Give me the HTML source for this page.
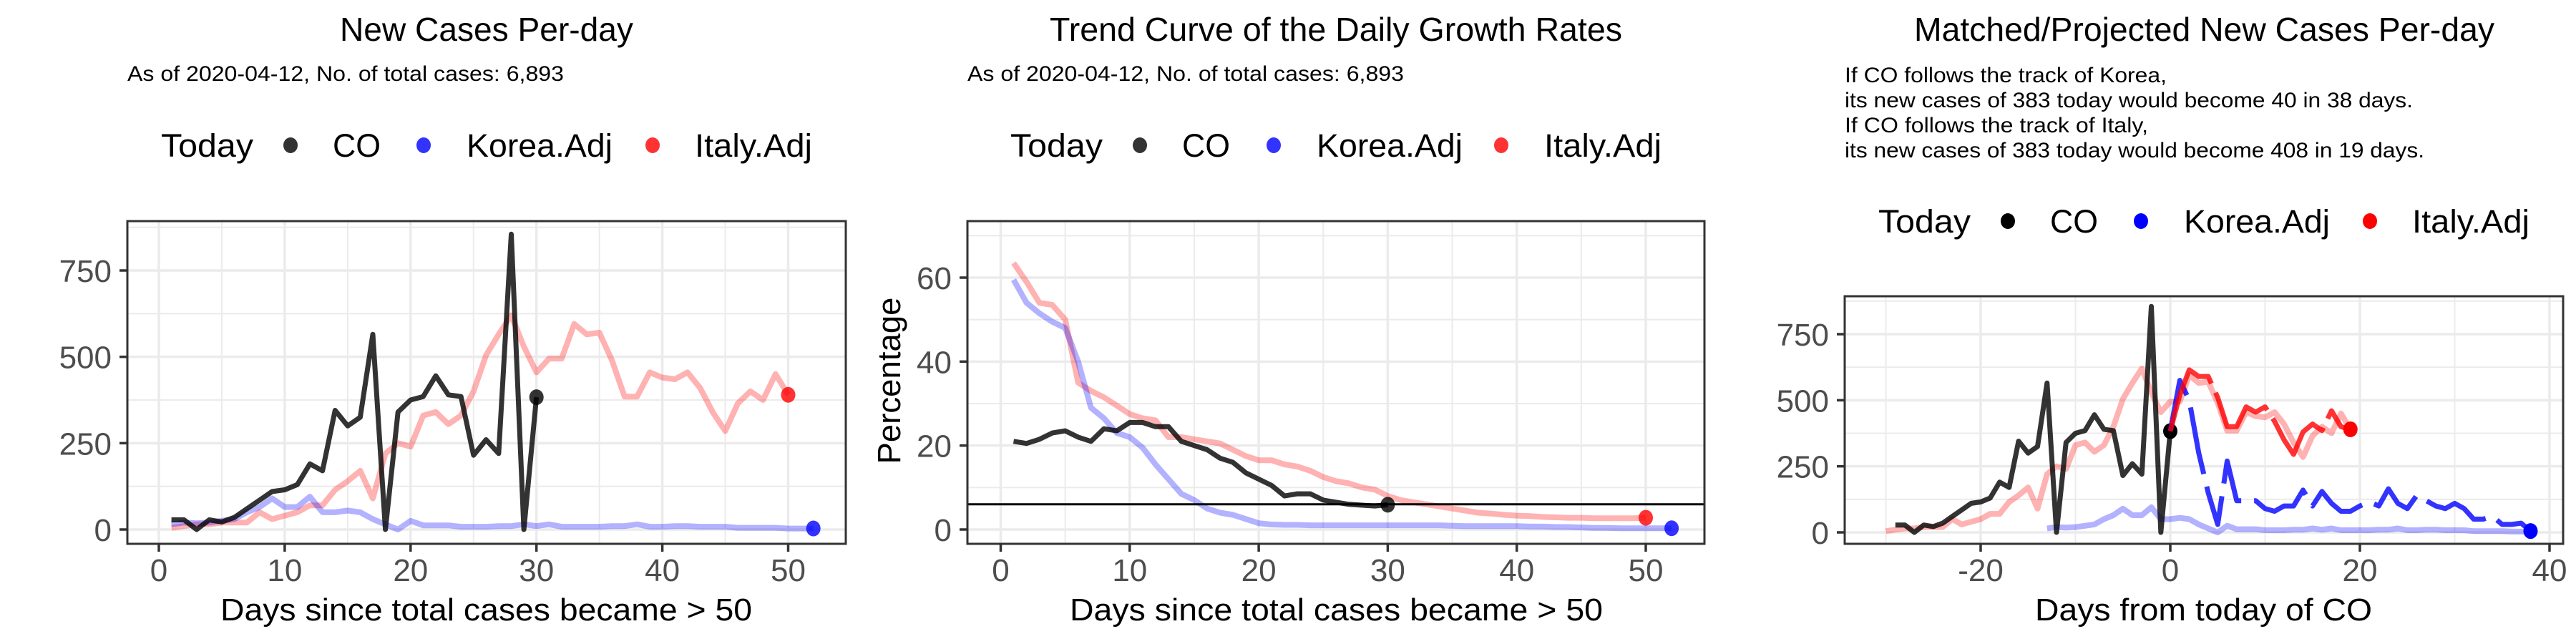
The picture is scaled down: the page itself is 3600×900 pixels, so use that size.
<!DOCTYPE html>
<html><head><meta charset="utf-8"><style>
html,body{margin:0;padding:0;background:#fff}
svg{display:block}
text{font-family:"Liberation Sans",Arial,sans-serif}
</style></head><body>
<svg id="chart" width="3600" height="900" viewBox="0 0 3600 900" xmlns="http://www.w3.org/2000/svg"></svg>
<script>
// ---- Panel 1 data: new cases per day ----
const p1CO = [28,28,0,28,22,35,60,85,110,115,130,190,170,345,300,325,565,0,340,375,385,445,390,385,215,260,220,855,0,383];
const p1Korea = [15,20,18,20,25,30,50,65,90,65,65,95,50,50,55,50,30,15,0,25,12,12,12,8,8,8,10,10,15,10,15,8,8,8,8,10,10,15,8,8,10,10,8,8,8,5,5,5,5,3,3,3];
const p1Italy = [5,10,15,15,20,20,20,50,30,40,50,70,70,115,140,170,90,220,250,240,330,340,305,330,400,505,565,620,530,455,495,495,595,565,570,490,385,385,455,440,435,455,410,340,285,365,400,375,450,390];
// ---- Panel 2 data: growth rates (%) ----
const p2CO = [21,20.5,21.5,23,23.5,22,21,24,23.5,25.5,25.5,24.5,24.5,21,20,19,17,16,13.5,12,10.5,8,8.5,8.5,7,6.5,6,5.8,5.6,5.9];
const p2Korea = [59.5,54,51.5,49.5,48,40,29,26.5,23,22,19.5,15.5,12,8.5,7,5,4,3.5,2.5,1.5,1.2,1.1,1.1,1,1,1,1,1,1,1,1,1,1,1,0.9,0.8,0.8,0.8,0.8,0.8,0.7,0.7,0.6,0.6,0.5,0.4,0.4,0.3,0.3,0.3,0.3,0.3];
const p2Italy = [63.5,59,54,53.5,50,35,33,31.5,29.5,27.5,26.5,26,22,22,21.5,21,20.5,19,17.5,16.5,16.5,15.5,15,14,12.5,11.5,11,10,9.5,8,7,6.5,6,5.5,5,4.5,4,3.8,3.5,3.3,3.2,3.0,2.9,2.8,2.8,2.7,2.7,2.7,2.7,2.8];
const p2Threshold = 6;
// ---- Panel 3 data: projections ----
const p3ItalyProj = [383,520,615,590,590,510,400,400,475,455,475,420,350,295,380,410,385,460,400,390];
const p3KoreaProj = [383,575,500,300,150,30,270,120,120,120,90,80,100,100,160,100,155,110,80,80,100,115,100,165,110,90,140,120,100,90,110,90,50,50,60,30,30,35,5];
const p3COOffset = -30, p3ItalyOffset = -31, p3KoreaOffset = -14;
const p1XTicks = [0,10,20,30,40,50], p1YTicks = [0,250,500,750];
const p2YTicks = [0,20,40,60];
const p3XTicks = [-20,0,20,40], p3YTicks = [0,250,500,750];

const NS = "http://www.w3.org/2000/svg";
const svg = document.getElementById('chart');
function el(tag, attrs, parent, txt){
  const e = document.createElementNS(NS, tag);
  for (const k in attrs) e.setAttribute(k, attrs[k]);
  if (txt !== undefined) e.textContent = txt;
  (parent || svg).appendChild(e);
  return e;
}
function fit(e, w){ e.setAttribute('textLength', w); e.setAttribute('lengthAdjust', 'spacingAndGlyphs'); }
function makePanel(c){
  const g = el('g', {});
  
  
  const sx = v => c.x0px + (v - c.x0v) * c.xs;
  const sy = v => c.y0px - v * c.ys;
  const grid = el('g', {}, g);
  
  
  c.xMinor.forEach(v => { const x = sx(v); if (x > c.L && x < c.R) el('line',{x1:x,x2:x,y1:c.T,y2:c.B,stroke:'#ebebeb','stroke-width':2},grid); });
  c.yMinor.forEach(v => { const y = sy(v); if (y > c.T && y < c.B) el('line',{x1:c.L,x2:c.R,y1:y,y2:y,stroke:'#ebebeb','stroke-width':2},grid); });
  c.xTicks.forEach(v => { const x = sx(v); el('line',{x1:x,x2:x,y1:c.T,y2:c.B,stroke:'#ebebeb','stroke-width':3.5},grid); });
  c.yTicks.forEach(v => { const y = sy(v); el('line',{x1:c.L,x2:c.R,y1:y,y2:y,stroke:'#ebebeb','stroke-width':3.5},grid); });
  const cid = 'clip' + c.name;
  const cp = el('clipPath', {id: cid}, g);
  el('rect', {x:c.L, y:c.T, width:c.R-c.L, height:c.B-c.T}, cp);
  const plot = el('g', {'clip-path': 'url(#' + cid + ')'}, g);
  c.series.forEach(s => {
    const pts = s.data.map((v,i) => sx(i + s.start).toFixed(1) + ',' + sy(v).toFixed(1)).join(' ');
    const pl = el('polyline', {points: pts, fill:'none', stroke:s.color, 'stroke-width':s.w, 'stroke-opacity':s.op, 'stroke-linejoin':'round'}, plot);
    if (s.dash) pl.setAttribute('stroke-dasharray', s.dash);
    
    
    if (s.dot) {
      const i = s.data.length - 1;
      const d = el('ellipse', {cx:sx(i + s.start), cy:sy(s.data[i]), rx:10, ry:11, fill:s.dotColor, 'fill-opacity':s.dotOp}, plot);
      
      
    }
  });
  if (c.hline !== undefined) {
    const h = el('line', {x1:c.L, x2:c.R, y1:sy(c.hline), y2:sy(c.hline), stroke:'#000', 'stroke-width':3}, plot);
    
    
  }
  const border = el('rect', {x:c.L, y:c.T, width:c.R-c.L, height:c.B-c.T, fill:'none', stroke:'#333', 'stroke-width':3}, g);
  
  
  c.xTicks.forEach(v => {
    const x = sx(v);
    el('line',{x1:x,x2:x,y1:c.B,y2:c.B+11,stroke:'#333','stroke-width':3.5},g);
    const t = el('text',{x:x,y:c.B+52,'text-anchor':'middle','font-size':44,fill:'#4d4d4d'},g,String(v));
    
    
  });
  c.yTicks.forEach(v => {
    const y = sy(v);
    el('line',{x1:c.L-11,x2:c.L,y1:y,y2:y,stroke:'#333','stroke-width':3.5},g);
    const t = el('text',{x:c.L-22,y:y+16,'text-anchor':'end','font-size':44,fill:'#4d4d4d'},g,String(v));
    
    
  });
  const xt = el('text',{x:c.xTitleX,y:867,'font-size':44,fill:'#000'},g,c.xTitle);
  fit(xt, c.xTitleW);
  
  
  if (c.yTitle) {
    const yt = el('text',{x:0,y:0,'text-anchor':'middle','font-size':45,fill:'#000',transform:'translate('+c.yTitleX+',532) rotate(-90)'},g,c.yTitle);
    fit(yt, 233);
    
    
  }
  const tt = el('text',{x:c.titleX,y:57,'font-size':46,fill:'#000'},g,c.title);
  fit(tt, c.titleW);
  
  
  c.sub.forEach((s,i) => {
    const st = el('text',{x:c.subX,y:c.subY + i*35,'font-size':30,fill:'#000'},g,s[0]);
    fit(st, s[1]);
    
    
  });
  const lg = el('g',{},g);
  
  
  const ly = c.legY;
  const td = el('text',{x:c.leg[0],y:ly+16,'font-size':45,fill:'#000'},lg,'Today');
  fit(td, 129);
  const items = [['CO','#000',c.leg[1],c.leg[2],67],['Korea.Adj','#0000ff',c.leg[3],c.leg[4],204],['Italy.Adj','#ff0000',c.leg[5],c.leg[6],164]];
  items.forEach(it => {
    const e = el('g',{},lg);
    
    
    el('ellipse',{cx:it[2],cy:ly,rx:10,ry:11,fill:it[1],'fill-opacity':c.legOp},e);
    const lt = el('text',{x:it[3],y:ly+16,'font-size':45,fill:'#000'},e,it[0]);
    fit(lt, it[4]);
  });
}

const asOf = 'As of 2020-04-12, No. of total cases: 6,893';
makePanel({name:'new-cases-panel', L:178, R:1182, T:309, B:760, x0v:0, x0px:222, xs:17.59, y0px:740, ys:362/750,
  xTicks:p1XTicks, yTicks:p1YTicks, xMinor:[-5,5,15,25,35,45,55], yMinor:[125,375,625,875],
  xTitle:'Days since total cases became > 50', xTitleX:308, xTitleW:743,
  title:'New Cases Per-day', titleX:475, titleW:410, sub:[[asOf,610]], subX:178, subY:113,
  legY:203, leg:[225,406,465,592,652,912,971], legOp:0.8,
  series:[
    {nm:'italy-line', data:p1Italy, start:1, color:'#ff0000', w:8, op:0.3, dot:true, dotColor:'#ff0000', dotOp:0.8},
    {nm:'korea-line', data:p1Korea, start:1, color:'#0000ff', w:8, op:0.3, dot:true, dotColor:'#0000ff', dotOp:0.8},
    {nm:'co-line', data:p1CO, start:1, color:'#000', w:7, op:0.8, dot:true, dotColor:'#000', dotOp:0.8}
  ]});
makePanel({name:'growth-rate-panel', L:1352, R:2382, T:309, B:760, x0v:0, x0px:1398.5, xs:18.03, y0px:740, ys:352/60,
  xTicks:p1XTicks, yTicks:p2YTicks, xMinor:[-5,5,15,25,35,45,55], yMinor:[10,30,50,70],
  xTitle:'Days since total cases became > 50', xTitleX:1495, xTitleW:745,
  yTitle:'Percentage', yTitleX:1258, title:'Trend Curve of the Daily Growth Rates', titleX:1467, titleW:800,
  sub:[[asOf,610]], subX:1352, subY:113,
  legY:203, leg:[1412,1593,1652,1780,1840,2098,2158], legOp:0.8, hline:p2Threshold,
  series:[
    {nm:'italy-growth-line', data:p2Italy, start:1, color:'#ff0000', w:8, op:0.3, dot:true, dotColor:'#ff0000', dotOp:0.8},
    {nm:'korea-growth-line', data:p2Korea, start:1, color:'#0000ff', w:8, op:0.3, dot:true, dotColor:'#0000ff', dotOp:0.8},
    {nm:'co-growth-line', data:p2CO, start:1, color:'#000', w:7, op:0.8, dot:true, dotColor:'#000', dotOp:0.8}
  ]});
makePanel({name:'projection-panel', L:2578, R:3582, T:414, B:760, x0v:0, x0px:3033, xs:13.25, y0px:744, ys:277/750,
  xTicks:p3XTicks, yTicks:p3YTicks, xMinor:[-30,-10,10,30], yMinor:[125,375,625,875],
  xTitle:'Days from today of CO', xTitleX:2844, xTitleW:471,
  title:'Matched/Projected New Cases Per-day', titleX:2675, titleW:811,
  sub:[['If CO follows the track of Korea,',450],['its new cases of 383 today would become 40 in 38 days.',794],['If CO follows the track of Italy,',424],['its new cases of 383 today would become 408 in 19 days.',810]], subX:2578, subY:115,
  legY:309, leg:[2625,2806,2865,2992,3052,3312,3371], legOp:1,
  series:[
    {nm:'italy-matched-line', data:p1Italy, start:1+p3ItalyOffset, color:'#ff0000', w:8, op:0.3},
    {nm:'korea-matched-line', data:p1Korea, start:1+p3KoreaOffset, color:'#0000ff', w:8, op:0.3},
    {nm:'co-line', data:p1CO, start:1+p3COOffset, color:'#000', w:7, op:0.8, dot:true, dotColor:'#000', dotOp:1},
    {nm:'korea-projection', data:p3KoreaProj, start:0, color:'#0000ff', w:7, op:0.8, dash:'95 18', dot:true, dotColor:'#0000ff', dotOp:1},
    {nm:'italy-projection', data:p3ItalyProj, start:0, color:'#ff0000', w:7, op:0.8, dash:'130 14', dot:true, dotColor:'#ff0000', dotOp:1}
  ]});
</script>
</body></html>
